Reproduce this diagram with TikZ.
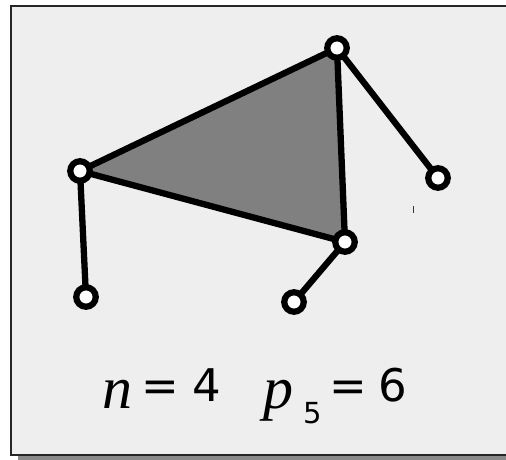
\documentclass[tikz,border=0pt]{standalone}
\usepackage{fontspec}
\setmainfont{Liberation Serif}
\newfontfamily\digfont{DejaVu Sans}
\definecolor{bgfill}{HTML}{EEEEEE}
\definecolor{trifill}{HTML}{808080}
\definecolor{shadowc}{HTML}{8A8A8A}
\tikzset{
  vert/.style={circle,draw=black,fill=white,line width=6.2pt,minimum size=19.5pt,inner sep=0pt},
  edge/.style={line width=6.3pt,line join=round},
  itl/.style={anchor=base,inner sep=0pt,font=\fontsize{60}{60}\selectfont\itshape},
  dig/.style={anchor=base,inner sep=0pt,font=\fontsize{45}{45}\selectfont\digfont},
  sub/.style={anchor=base,inner sep=0pt,font=\fontsize{29}{29}\selectfont\digfont},
}
\begin{document}
\begin{tikzpicture}[x=1pt,y=-1pt]
\useasboundingbox (0,0) rectangle (506,460);
\clip (0,0) rectangle (506,460);
\fill[shadowc] (18,456) rectangle (540,462);
\draw[fill=bgfill,line width=2pt,draw=black!85] (11,6) rectangle (540,455);
\coordinate (A) at (80,171);
\coordinate (B) at (337,48);
\coordinate (C) at (345,242);
\coordinate (D) at (86,297);
\coordinate (E) at (438,178);
\coordinate (F) at (294,302);
\fill[trifill] (A) -- (B) -- (C) -- cycle;
\draw[edge] (A) -- (B) -- (C) -- cycle;
\draw[edge] (A) -- (D);
\draw[edge] (B) -- (E);
\draw[edge] (C) -- (F);
\foreach \p in {A,B,C,D,E,F} \node[vert] (n\p) at (\p) {};
\draw[black!80,line width=1pt] (413,206) -- (413,213);
\node[itl] (tn) at (117,408) {n};
\node[dig] (te1) at (160,401) {=};
\node[dig] (t4) at (207,401) {4};
\node[itl] (tp) at (278,408) {p};
\node[sub] (t5) at (313,423) {5};
\node[dig] (te2) at (348.5,401) {=};
\node[dig] (t6) at (392.5,401) {6};
\end{tikzpicture}
\end{document}
